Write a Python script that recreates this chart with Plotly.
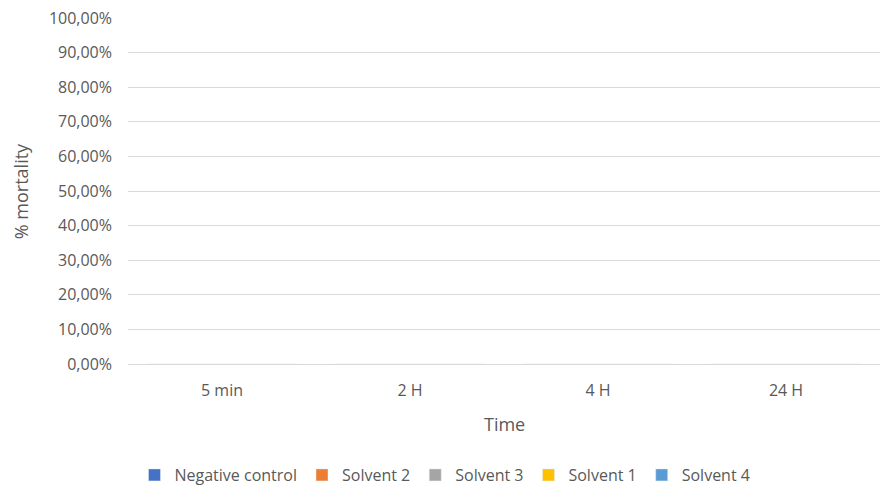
import plotly.graph_objects as go

categories = ["5 min", "2 H", "4 H", "24 H"]
series_names = ["Negative control", "Solvent 2", "Solvent 3", "Solvent 1", "Solvent 4"]
negative_control = [0, 0, 0, 0]
solvent_2 = [0, 0, 0, 0]
solvent_3 = [0, 0, 0, 0]
solvent_1 = [0, 0, 0, 0]
solvent_4 = [0, 0, 0, 0]
tick_values = [0, 0.1, 0.2, 0.3, 0.4, 0.5, 0.6, 0.7, 0.8, 0.9, 1.0]
tick_labels = ["0,00%", "10,00%", "20,00%", "30,00%", "40,00%", "50,00%",
               "60,00%", "70,00%", "80,00%", "90,00%", "100,00%"]

colors = ["#4472C4", "#ED7D31", "#A5A5A5", "#FFC000", "#5B9BD5"]
values = [negative_control, solvent_2, solvent_3, solvent_1, solvent_4]

fig = go.Figure()
for name, vals, c in zip(series_names, values, colors):
    fig.add_trace(go.Bar(x=categories, y=vals, name=name, marker_color=c))

font_family = "Open Sans, Liberation Sans, sans-serif"
fig.update_layout(
    width=890, height=492,
    margin=dict(l=128, r=10, t=18, b=128),
    plot_bgcolor="white", paper_bgcolor="white",
    font=dict(family=font_family, size=16, color="#595959"),
    barmode="group",
    showlegend=True,
    legend=dict(orientation="h", xref="container", yref="container",
                x=0.5, xanchor="center", y=-0.014, yanchor="bottom",
                font=dict(size=16, color="#595959"), itemwidth=30, traceorder="normal",
                tracegroupgap=0),
    xaxis=dict(showgrid=False, showline=True, linecolor="#D9D9D9", linewidth=1,
               ticks="", tickfont=dict(size=16, color="#595959"), ticklabelstandoff=12,
               automargin=False),
    yaxis=dict(range=[0, 1.0], tickvals=tick_values, ticktext=tick_labels,
               showgrid=True, gridcolor="#D9D9D9", gridwidth=1, zeroline=False,
               showline=False, ticks="", tickfont=dict(size=16, color="#595959"),
               ticklabelstandoff=15, automargin=False),
    annotations=[
        dict(text="Time", xref="paper", yref="paper", x=0.5, y=-0.173, yanchor="middle",
             showarrow=False, font=dict(size=18, color="#595959")),
        dict(text="% mortality", xref="paper", yref="paper", x=-0.142, xanchor="center",
             y=0.5, yanchor="middle", textangle=-90, showarrow=False,
             font=dict(size=18, color="#595959")),
    ],
)

fig.write_html(
    "out.html",
    config={"displayModeBar": False},
    post_script="document.body.style.margin='0';document.body.style.overflow='hidden';",
)
